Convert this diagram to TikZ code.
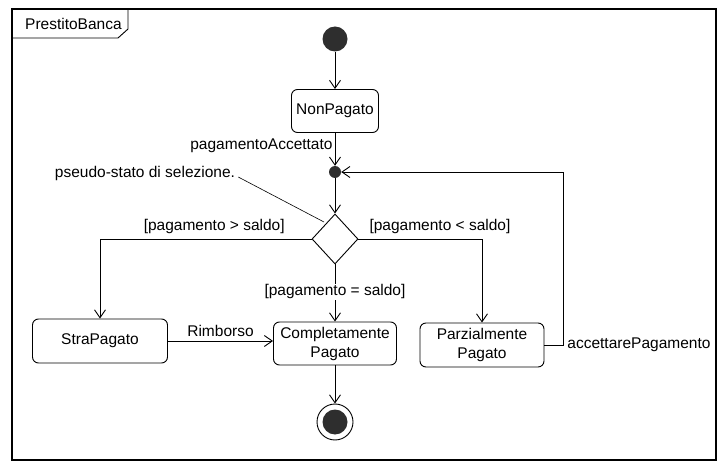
\documentclass[tikz,border=0pt]{standalone}
\usepackage{fontspec}
\setmainfont{Liberation Sans}
\usetikzlibrary{arrows.meta,shapes.geometric}
\definecolor{dotgray}{HTML}{2E2E2E}
\begin{document}
\begin{tikzpicture}[x=1pt,y=-1pt,
  every node/.style={font=\fontsize{15.5}{19}\selectfont, inner sep=2pt},
  stbox/.style={draw, rounded corners=6pt, line width=0.9pt, align=center, inner sep=0pt},
  arr/.style={draw, line width=0.9pt, -{Straight Barb[length=8pt,width=11pt]}},
  ln/.style={draw, line width=0.9pt},
  dot/.style={circle, fill=dotgray, inner sep=0pt}
]
\useasboundingbox (0,0) rectangle (718,465);
% frame
\draw[line width=1.1pt] (12,9) rectangle (716,460);
\draw[line width=0.9pt] (12,38) -- (118,38) -- (128,29) -- (128,9);
\node[anchor=west] (title) at (23,24) {PrestitoBanca};
% states
\node[dot, minimum size=25pt] (init) at (335,39) {};
\node[stbox, minimum width=87pt, minimum height=43pt] (np) at (335,111) {NonPagato};
\node[dot, minimum size=12pt] (j) at (335,172) {};
\node[diamond, draw, line width=0.9pt, minimum width=46pt, minimum height=50pt, inner sep=0pt, fill=white] (d) at (335,239) {};
\node[stbox, minimum width=135pt, minimum height=44pt] (s) at (100,341) {StraPagato};
\node[stbox, minimum width=123pt, minimum height=43pt] (c) at (335,343.5) {Completamente\\Pagato};
\node[stbox, minimum width=124pt, minimum height=44pt] (p) at (482,345) {Parzialmente\\Pagato};
\node[circle, draw, line width=0.9pt, minimum size=36pt, inner sep=0pt] (f) at (335,422) {};
\node[dot, minimum size=25pt] (fin) at (f) {};
% note
\node (ps) at (145,173) {pseudo-stato di selezione.};
\coordinate (pst) at (324,222);
\draw[line width=0.6pt] ([xshift=1pt]ps.base east) -- (pst);
% transitions
\draw[arr] (init) -- (np);
\draw[arr] (np) -- node[pos=0.38, left] {pagamentoAccettato} (j);
\draw[arr] (j) -- (d);
\draw[arr] (d.west) -| node[pos=0.23, above=3pt] {[pagamento > saldo]} (s.north);
\draw[arr] (d.east) -| node[pos=0.33, above=3pt] {[pagamento < saldo]} (p.north);
\draw[arr] (d.south) -- node[pos=0.48, fill=white, inner sep=1pt] {[pagamento = saldo]} (c.north);
\draw[arr] (s.east) -- node[midway, above=2pt] {Rimborso} (s.east -| c.west);
\draw[arr] (c) -- (f);
\coordinate (lp) at (563,172);
\draw[arr] (p.east) -- node[pos=1, right=2pt] {accettarePagamento} (lp |- p.east) -- (lp) -- (j);
\end{tikzpicture}
\end{document}
